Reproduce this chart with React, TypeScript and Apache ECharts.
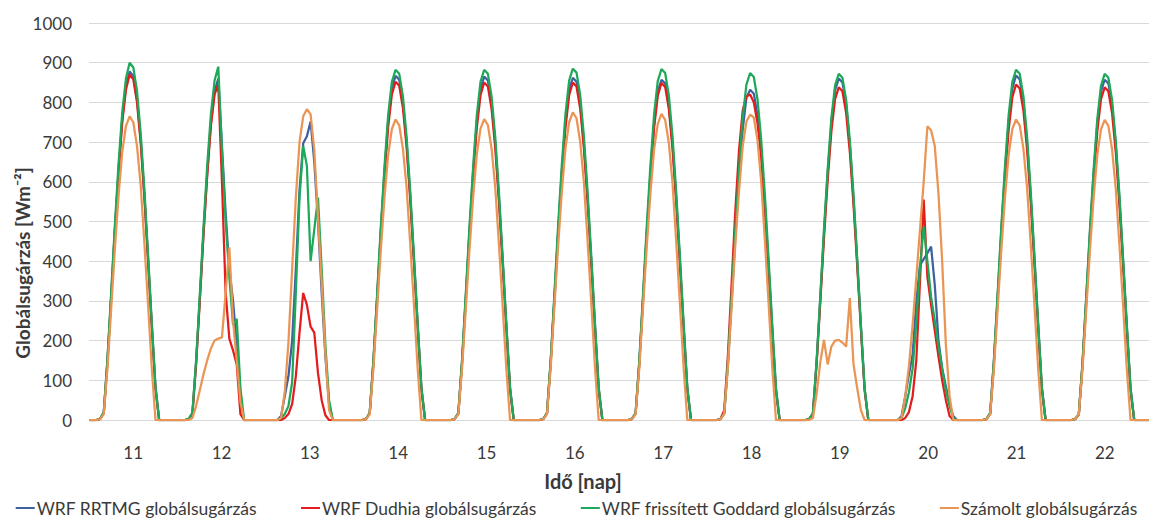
import React, { useEffect, useRef } from 'react';
import * as echarts from 'echarts';

// Days of the period (x-axis tick labels)
const days = ['11', '12', '13', '14', '15', '16', '17', '18', '19', '20', '21', '22'];
// Hours of each day (one value per hour, 0..23 UTC)
const hoursOfDay = ['00', '01', '02', '03', '04', '05', '06', '07', '08', '09', '10', '11',
  '12', '13', '14', '15', '16', '17', '18', '19', '20', '21', '22', '23'];

// Y axis range [W m-2]
const yMin = 0;
const yMax = 1000;
const yStep = 100;

const seriesNames = [
  'WRF RRTMG globálsugárzás',
  'WRF Dudhia globálsugárzás',
  'WRF frissített Goddard globálsugárzás',
  'Számolt globálsugárzás',
];

// WRF RRTMG hourly global radiation, one row per day
const rrtmg: number[][] = [
  [0, 0, 0, 3, 19, 150, 312, 478, 630, 757, 840, 878, 866, 808, 705, 566, 405, 239, 82, 0, 0, 0, 0, 0],
  [0, 0, 0, 3, 17, 145, 305, 472, 622, 748, 828, 860, 690, 520, 380, 300, 190, 50, 0, 0, 0, 0, 0, 0],
  [0, 0, 0, 0, 10, 60, 110, 200, 380, 580, 697, 715, 752, 650, 500, 320, 160, 40, 0, 0, 0, 0, 0, 0],
  [0, 0, 0, 3, 17, 146, 308, 474, 625, 752, 835, 867, 857, 800, 698, 561, 402, 237, 80, 0, 0, 0, 0, 0],
  [0, 0, 0, 3, 17, 146, 307, 473, 624, 751, 834, 865, 855, 799, 697, 560, 401, 236, 80, 0, 0, 0, 0, 0],
  [0, 0, 0, 3, 17, 146, 307, 472, 623, 750, 832, 862, 852, 797, 695, 558, 400, 236, 79, 0, 0, 0, 0, 0],
  [0, 0, 0, 3, 17, 145, 305, 470, 620, 746, 828, 857, 848, 793, 692, 556, 398, 235, 79, 0, 0, 0, 0, 0],
  [0, 0, 0, 3, 16, 142, 300, 462, 608, 732, 812, 832, 822, 768, 672, 540, 387, 228, 77, 0, 0, 0, 0, 0],
  [0, 0, 0, 3, 17, 145, 306, 471, 621, 748, 830, 860, 850, 795, 694, 557, 399, 235, 79, 0, 0, 0, 0, 0],
  [0, 0, 0, 0, 10, 60, 115, 165, 300, 390, 405, 420, 437, 340, 200, 130, 85, 40, 10, 0, 0, 0, 0, 0],
  [0, 0, 0, 3, 17, 146, 308, 474, 625, 752, 835, 868, 858, 801, 698, 561, 402, 237, 80, 0, 0, 0, 0, 0],
  [0, 0, 0, 2, 15, 142, 304, 469, 619, 745, 828, 857, 848, 793, 692, 556, 398, 235, 79, 0, 0, 0, 0, 0],
];

// WRF Dudhia hourly global radiation
const dudhia: number[][] = [
  [0, 0, 0, 2, 17, 145, 306, 472, 622, 750, 832, 870, 858, 800, 698, 560, 400, 235, 78, 0, 0, 0, 0, 0],
  [0, 0, 0, 2, 15, 140, 300, 466, 615, 740, 820, 845, 600, 320, 205, 175, 140, 15, 0, 0, 0, 0, 0, 0],
  [0, 0, 0, 0, 0, 5, 15, 40, 110, 220, 320, 290, 235, 220, 118, 50, 12, 0, 0, 0, 0, 0, 0, 0],
  [0, 0, 0, 2, 16, 143, 302, 466, 614, 738, 820, 852, 842, 786, 686, 551, 394, 232, 77, 0, 0, 0, 0, 0],
  [0, 0, 0, 2, 16, 142, 301, 465, 612, 736, 818, 850, 840, 784, 684, 549, 393, 231, 76, 0, 0, 0, 0, 0],
  [0, 0, 0, 2, 16, 142, 301, 465, 612, 736, 818, 850, 840, 784, 684, 549, 393, 231, 76, 0, 0, 0, 0, 0],
  [0, 0, 0, 2, 16, 142, 301, 464, 611, 735, 817, 849, 839, 783, 683, 548, 392, 231, 76, 0, 0, 0, 0, 0],
  [0, 0, 0, 3, 25, 165, 345, 528, 680, 780, 815, 820, 800, 748, 660, 530, 380, 220, 70, 0, 0, 0, 0, 0],
  [0, 0, 0, 2, 15, 140, 297, 458, 604, 727, 808, 838, 828, 773, 675, 542, 388, 228, 75, 0, 0, 0, 0, 0],
  [0, 0, 0, 0, 0, 5, 20, 60, 150, 350, 555, 360, 290, 225, 160, 100, 50, 10, 0, 0, 0, 0, 0, 0],
  [0, 0, 0, 2, 15, 141, 299, 461, 608, 731, 813, 845, 835, 779, 680, 546, 391, 230, 76, 0, 0, 0, 0, 0],
  [0, 0, 0, 2, 14, 139, 297, 458, 604, 727, 808, 838, 828, 773, 675, 542, 388, 228, 75, 0, 0, 0, 0, 0],
];

// WRF updated Goddard hourly global radiation
const goddard: number[][] = [
  [0, 0, 0, 3, 20, 155, 320, 490, 645, 775, 860, 900, 888, 828, 722, 580, 415, 245, 85, 0, 0, 0, 0, 0],
  [0, 0, 0, 3, 18, 150, 315, 485, 640, 770, 855, 890, 680, 500, 360, 240, 255, 80, 0, 0, 0, 0, 0, 0],
  [0, 0, 0, 0, 5, 15, 35, 95, 320, 560, 690, 640, 400, 480, 560, 380, 190, 50, 0, 0, 0, 0, 0, 0],
  [0, 0, 0, 3, 18, 150, 315, 485, 638, 768, 852, 882, 872, 815, 712, 572, 410, 242, 82, 0, 0, 0, 0, 0],
  [0, 0, 0, 3, 18, 150, 315, 485, 638, 768, 852, 882, 872, 815, 712, 572, 410, 242, 82, 0, 0, 0, 0, 0],
  [0, 0, 0, 3, 18, 150, 316, 487, 640, 770, 855, 885, 875, 818, 714, 574, 412, 243, 83, 0, 0, 0, 0, 0],
  [0, 0, 0, 3, 18, 150, 316, 486, 640, 770, 854, 884, 874, 817, 713, 573, 411, 243, 82, 0, 0, 0, 0, 0],
  [0, 0, 0, 3, 17, 148, 312, 481, 633, 762, 845, 874, 864, 808, 706, 567, 406, 240, 81, 0, 0, 0, 0, 0],
  [0, 0, 0, 3, 17, 148, 311, 480, 632, 760, 843, 872, 862, 806, 704, 566, 405, 239, 80, 0, 0, 0, 0, 0],
  [0, 0, 0, 0, 5, 30, 70, 130, 245, 385, 487, 400, 310, 250, 185, 130, 75, 35, 5, 0, 0, 0, 0, 0],
  [0, 0, 0, 3, 18, 150, 315, 485, 638, 768, 852, 882, 872, 815, 712, 572, 410, 242, 82, 0, 0, 0, 0, 0],
  [0, 0, 0, 2, 15, 145, 310, 478, 630, 758, 842, 872, 862, 806, 704, 566, 405, 239, 80, 0, 0, 0, 0, 0],
];

// Calculated hourly global radiation
const szamolt: number[][] = [
  [0, 0, 0, 2, 15, 130, 280, 430, 565, 675, 740, 765, 750, 690, 590, 445, 290, 130, 0, 0, 0, 0, 0, 0],
  [0, 0, 0, 0, 5, 35, 75, 115, 150, 180, 200, 205, 208, 320, 435, 250, 150, 45, 0, 0, 0, 0, 0, 0],
  [0, 0, 0, 0, 5, 70, 195, 380, 560, 700, 765, 783, 770, 680, 510, 345, 170, 25, 0, 0, 0, 0, 0, 0],
  [0, 0, 0, 2, 15, 128, 277, 426, 560, 668, 733, 757, 742, 683, 584, 440, 287, 128, 0, 0, 0, 0, 0, 0],
  [0, 0, 0, 2, 15, 128, 277, 426, 560, 669, 734, 758, 743, 684, 585, 441, 287, 128, 0, 0, 0, 0, 0, 0],
  [0, 0, 0, 2, 15, 132, 284, 436, 572, 684, 750, 775, 760, 700, 598, 450, 294, 132, 0, 0, 0, 0, 0, 0],
  [0, 0, 0, 2, 15, 131, 283, 434, 570, 681, 746, 771, 756, 697, 596, 448, 292, 131, 0, 0, 0, 0, 0, 0],
  [0, 0, 0, 2, 16, 135, 288, 442, 578, 690, 752, 769, 762, 705, 600, 452, 295, 132, 0, 0, 0, 0, 0, 0],
  [0, 0, 0, 0, 5, 65, 145, 202, 140, 185, 200, 202, 195, 185, 307, 140, 80, 25, 0, 0, 0, 0, 0, 0],
  [0, 0, 0, 0, 5, 60, 135, 240, 360, 480, 600, 740, 730, 690, 570, 400, 190, 60, 0, 0, 0, 0, 0, 0],
  [0, 0, 0, 2, 15, 128, 277, 426, 560, 668, 733, 757, 742, 683, 584, 440, 287, 128, 0, 0, 0, 0, 0, 0],
  [0, 0, 0, 2, 15, 128, 276, 425, 559, 667, 732, 756, 741, 682, 583, 439, 286, 127, 0, 0, 0, 0, 0, 0],
];

const lineColors = ['#41609f', '#e31d1d', '#1ea85a', '#ea9553'];

const FONT = 'Lato, "Open Sans", sans-serif';
const TEXT_COLOR = '#3a3a3a';

export default function App() {
  const ref = useRef<HTMLDivElement>(null);

  useEffect(() => {
    if (!ref.current) return;
    const chart = echarts.init(ref.current, undefined, { renderer: 'svg' });

    const hourCategories = days.flatMap((d) => hoursOfDay.map((h) => `${d} ${h}:00`));
    const values = [rrtmg, dudhia, goddard, szamolt].map((rows) => rows.flat());

    chart.setOption({
      animation: false,
      textStyle: { fontFamily: FONT },
      grid: { left: 89, right: 4, top: 23, bottom: 101, containLabel: false },
      xAxis: [
        {
          type: 'category',
          data: hourCategories,
          boundaryGap: false,
          axisLine: { show: false },
          axisTick: { show: false },
          axisLabel: { show: false },
          splitLine: { show: false },
        },
        {
          type: 'category',
          data: days,
          boundaryGap: true,
          position: 'bottom',
          axisLine: { show: false },
          axisTick: { show: false },
          axisLabel: { color: TEXT_COLOR, fontSize: 17, fontFamily: FONT, margin: 24 },
          splitLine: { show: false },
        },
      ],
      yAxis: {
        type: 'value',
        min: yMin,
        max: yMax,
        interval: yStep,
        axisLine: { show: false },
        axisTick: { show: false },
        axisLabel: {
          color: TEXT_COLOR,
          fontSize: 17,
          fontFamily: FONT,
          margin: 17,
          formatter: (v: number) => String(v),
        },
        splitLine: { lineStyle: { color: '#d9d9d9', width: 1 } },
      },
      legend: {
        data: seriesNames,
        top: 494,
        left: 'center',
        icon: 'rect',
        itemWidth: 19,
        itemHeight: 2,
        itemGap: 44,
        textStyle: { color: TEXT_COLOR, fontSize: 17.5, fontFamily: FONT, padding: [0, 0, 0, -3] },
      },
      graphic: [
        {
          type: 'text',
          x: 583,
          y: 481,
          style: {
            text: 'Idő [nap]',
            fill: TEXT_COLOR,
            font: `bold 20px ${FONT}`,
            textAlign: 'center',
            textVerticalAlign: 'middle',
          },
        },
        {
          type: 'text',
          x: 22,
          y: 263,
          rotation: Math.PI / 2,
          style: {
            text: 'Globálsugárzás [Wm⁻²]',
            fill: TEXT_COLOR,
            font: `bold 19px ${FONT}`,
            textAlign: 'center',
            textVerticalAlign: 'middle',
          },
        },
      ],
      series: seriesNames.map((name, i) => ({
        name,
        type: 'line',
        xAxisIndex: 0,
        data: values[i],
        showSymbol: false,
        symbol: 'none',
        color: lineColors[i],
        lineStyle: { color: lineColors[i], width: 2.25 },
        z: 2 + i,
      })),
    });

    return () => chart.dispose();
  }, []);

  return (
    <div
      ref={ref}
      style={{ position: 'absolute', left: 0, top: 0, width: 1153, height: 521, background: '#fff' }}
    />
  );
}
